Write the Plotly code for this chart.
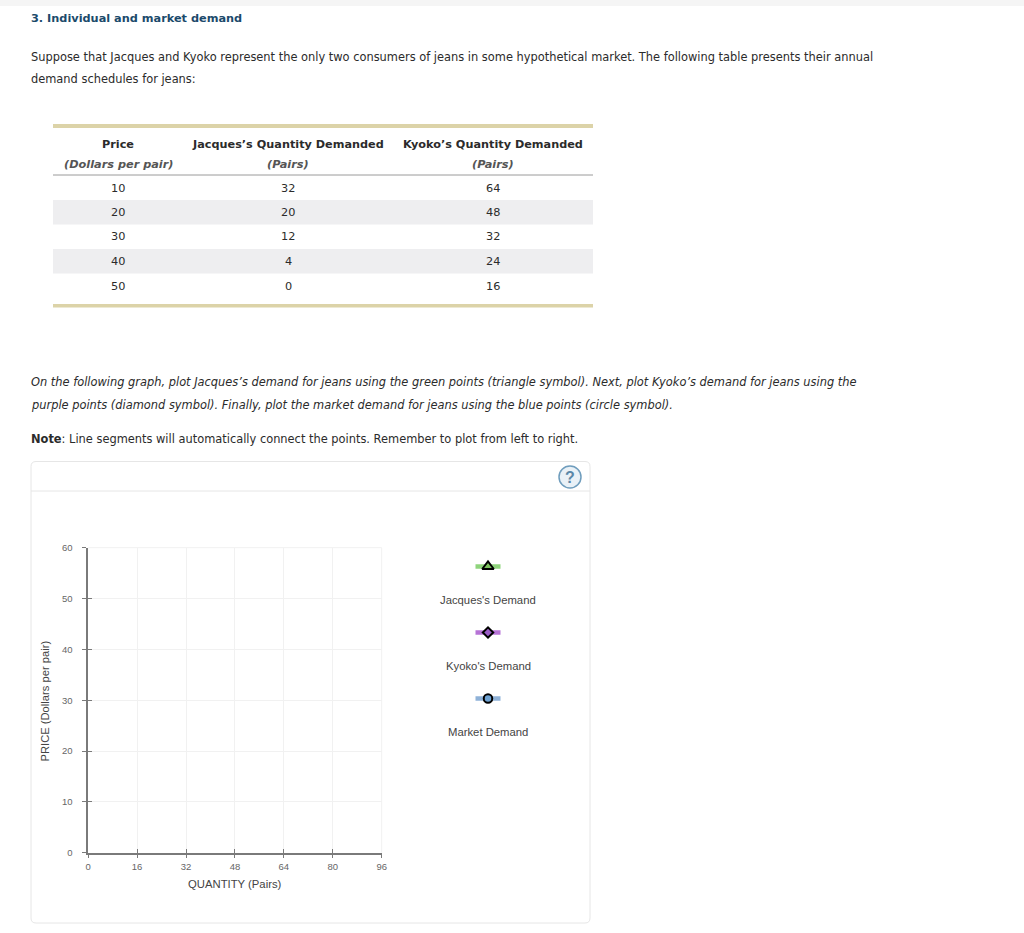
import plotly.graph_objects as go

W, H = 1024, 933

# --- data ---
prices = [10, 20, 30, 40, 50]
jacques_qty = [32, 20, 12, 4, 0]
kyoko_qty = [64, 48, 32, 24, 16]
x_ticks = [0, 16, 32, 48, 64, 80, 96]
y_ticks = [0, 10, 20, 30, 40, 50, 60]
table_heads = ["Price", "Jacques’s Quantity Demanded", "Kyoko’s Quantity Demanded"]
table_units = ["(Dollars per pair)", "(Pairs)", "(Pairs)"]
legend_names = ["Jacques's Demand", "Kyoko's Demand", "Market Demand"]


def px(x):
    return x / W


def py(y):
    return 1 - y / H


TXT = "#2b2b2b"
BODY = "DejaVu Sans"
CHART = "Liberation Sans"
annotations = []
shapes = []


def text(x, y, s, size=11.3, color=TXT, anchor="left", font=BODY, angle=0):
    annotations.append(dict(
        x=px(x), y=py(y), xref="paper", yref="paper", text=s, showarrow=False,
        xanchor=anchor, yanchor="middle", align=anchor, textangle=angle,
        font=dict(family=font, size=size, color=color),
    ))


def rect(x0, y0, x1, y1, color):
    shapes.append(dict(type="rect", xref="paper", yref="paper", x0=px(x0), x1=px(x1),
                       y0=py(y0), y1=py(y1), fillcolor=color, line_width=0, layer="below"))


def hline(x0, x1, y, color, w=1):
    shapes.append(dict(type="line", xref="paper", yref="paper", x0=px(x0), x1=px(x1),
                       y0=py(y), y1=py(y), line=dict(color=color, width=w), layer="below"))


# page top band
rect(0, 0, W, 6, "#f5f5f5")

# heading and paragraphs
PARA = 11.41
LEFT = 29
text(LEFT, 18, "<b>3. Individual and market demand</b>", color="#1b4a6b")
text(LEFT, 57, "Suppose that Jacques and Kyoko represent the only two consumers of jeans in some hypothetical market. The following table presents their annual", size=PARA)
text(LEFT, 79, "demand schedules for jeans:", size=PARA)
text(LEFT, 382, "<i>On the following graph, plot Jacques’s demand for jeans using the green points (triangle symbol). Next, plot Kyoko’s demand for jeans using the</i>", size=PARA)
text(LEFT, 405, "<i>purple points (diamond symbol). Finally, plot the market demand for jeans using the blue points (circle symbol).</i>", size=PARA)
text(LEFT, 439, "<b>Note</b>: Line segments will automatically connect the points. Remember to plot from left to right.", size=PARA)

# table
TX0, TX1 = 53, 593
COLS = [118, 288, 493]
rect(TX0, 124, TX1, 128, "#dcd3a8")
rect(TX0, 304, TX1, 307.5, "#dcd3a8")
hline(TX0, TX1, 175, "#9a9a9a")
rect(TX0, 200, TX1, 224.5, "#eeeef0")
rect(TX0, 249, TX1, 273.5, "#eeeef0")
for cx, head, unit in zip(COLS, table_heads, table_units):
    text(cx, 144, f"<b>{head}</b>", size=11.25, anchor="center")
    text(cx, 164.5, f"<b><i>{unit}</i></b>", color="#555555", anchor="center")
ROW_Y = [188, 212, 236.8, 261.5, 286]
for ry, p, j, k in zip(ROW_Y, prices, jacques_qty, kyoko_qty):
    for cx, v in zip(COLS, (p, j, k)):
        text(cx, ry, str(v), anchor="center")

# card
CARD = "#e6e6e6"
x0c, x1c, y0c, y1c, r = 31, 590, 461.5, 923, 5
path = (f"M {px(x0c+r)} {py(y0c)} L {px(x1c-r)} {py(y0c)} "
        f"Q {px(x1c)} {py(y0c)} {px(x1c)} {py(y0c+r)} L {px(x1c)} {py(y1c-r)} "
        f"Q {px(x1c)} {py(y1c)} {px(x1c-r)} {py(y1c)} L {px(x0c+r)} {py(y1c)} "
        f"Q {px(x0c)} {py(y1c)} {px(x0c)} {py(y1c-r)} L {px(x0c)} {py(y0c+r)} "
        f"Q {px(x0c)} {py(y0c)} {px(x0c+r)} {py(y0c)} Z")
shapes.append(dict(type="path", xref="paper", yref="paper", path=path,
                   line=dict(color=CARD, width=1), layer="below"))
hline(x0c, x1c, 491, CARD)

# help icon
shapes.append(dict(type="circle", xref="paper", yref="paper", x0=px(559), x1=px(581),
                   y0=py(488), y1=py(466), fillcolor="#e9f1f7",
                   line=dict(color="#6f9dbd", width=1.5)))
text(570, 477, "<b>?</b>", size=16, color="#5a87a8", anchor="center", font=CHART)

# axis text
AX_TITLE = "#444444"
text(235, 884, "QUANTITY (Pairs)", size=11.3, color=AX_TITLE, anchor="center", font=CHART)
text(44, 701.5, "PRICE (Dollars per pair)", size=11.2, color=AX_TITLE, anchor="center", font=CHART, angle=-90)

# legend text
LEG_CX = 488
LEG_KEY_Y = [566.5, 632.5, 698.5]
LEG_TXT_Y = [600, 666, 732]
for name, ty in zip(legend_names, LEG_TXT_Y):
    text(LEG_CX, ty, name, size=11.3, color=AX_TITLE, anchor="center", font=CHART)

fig = go.Figure()

dom_x = [px(88.2), px(381.7)]
dom_y = [py(852.7), py(547.7)]
AX = "#7a7a7a"
GRID = "#f1f1f1"
TICKFONT = dict(family=CHART, size=9.5, color="#666666")

# top and right border of the grid
for sh in (dict(x0=0, x1=1, y0=1, y1=1), dict(x0=1, x1=1, y0=0, y1=1)):
    shapes.append(dict(type="line", xref="x domain", yref="y domain",
                       line=dict(color=GRID, width=1), layer="below", **sh))

# empty answer graph: the axes exist before any point is plotted
fig.add_trace(go.Scatter(x=[], y=[], xaxis="x", yaxis="y", showlegend=False))
fig.add_trace(go.Scatter(x=[], y=[], xaxis="x2", yaxis="y2", showlegend=False))

# legend keys
key_styles = [
    ("triangle-up", "#8fd47c", "#7cc25e", 10),
    ("diamond", "#b673d6", "#9a5cc6", 8),
    ("circle", "#8fb2d8", "#6fa3d3", 8.5),
]
for (sym, lc, fc, sz), ky in zip(key_styles, LEG_KEY_Y):
    fig.add_trace(go.Scatter(
        x=[LEG_CX - 12.5, LEG_CX + 12.5], y=[ky, ky], mode="lines",
        line=dict(color=lc, width=4.5), xaxis="x3", yaxis="y3",
        showlegend=False, hoverinfo="skip"))
    fig.add_trace(go.Scatter(
        x=[LEG_CX], y=[ky], mode="markers",
        marker=dict(symbol=sym, color=fc, size=sz, line=dict(color="#000000", width=2)),
        xaxis="x3", yaxis="y3", showlegend=False, hoverinfo="skip"))

fig.update_layout(
    width=W, height=H, margin=dict(l=0, r=0, t=0, b=0, autoexpand=False),
    paper_bgcolor="#ffffff", plot_bgcolor="rgba(0,0,0,0)",
    annotations=annotations, shapes=shapes, showlegend=False,
    xaxis=dict(domain=dom_x, range=[0, 96], tickvals=x_ticks, ticks="outside", ticklen=3.5,
               tickcolor=AX, tickwidth=1, showgrid=True, gridcolor=GRID, gridwidth=1,
               showline=True, linecolor=AX, linewidth=1.5, zeroline=False,
               tickfont=TICKFONT, anchor="y", ticklabelstandoff=1),
    yaxis=dict(domain=dom_y, range=[0, 60], tickvals=y_ticks, ticks="outside", ticklen=4,
               tickcolor=AX, tickwidth=1, showgrid=True, gridcolor=GRID, gridwidth=1,
               showline=True, linecolor=AX, linewidth=1.5, zeroline=False,
               tickfont=TICKFONT, anchor="x", ticklabelstandoff=8),
    xaxis2=dict(domain=dom_x, range=[0, 96], tickvals=x_ticks, ticks="inside", ticklen=3.5,
                tickcolor=AX, showticklabels=False, showgrid=False, zeroline=False,
                anchor="y2", overlaying="x"),
    yaxis2=dict(domain=dom_y, range=[0, 60], tickvals=y_ticks, ticks="inside", ticklen=3.5,
                tickcolor=AX, showticklabels=False, showgrid=False, zeroline=False,
                anchor="x2", overlaying="y"),
    xaxis3=dict(domain=[0, 1], range=[0, W], visible=False, anchor="y3"),
    yaxis3=dict(domain=[0, 1], range=[H, 0], visible=False, anchor="x3"),
)

fig.write_html("out.html", config=dict(displayModeBar=False),
               post_script="document.body.style.margin='0';document.body.style.overflow='hidden';")
